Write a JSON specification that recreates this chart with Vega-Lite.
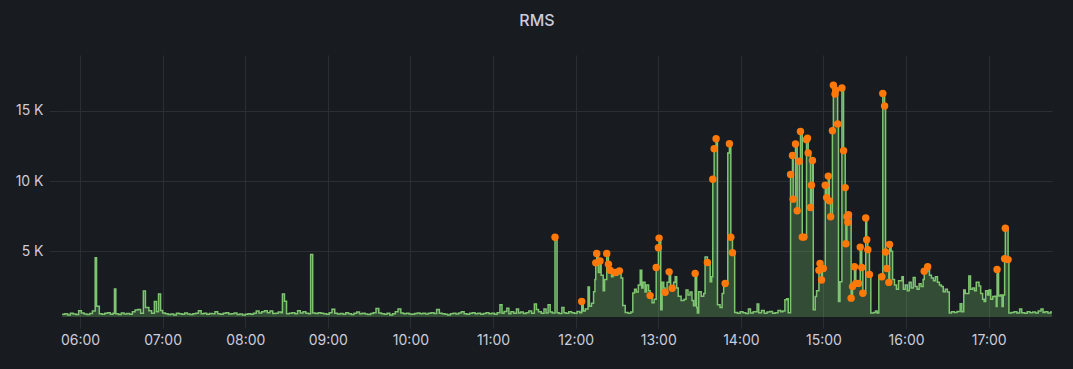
{
"$schema":"https://vega.github.io/schema/vega-lite/v6.json",
"width":990,"height":262,
"autosize":"none",
"padding":{"left":62,"top":55,"right":21,"bottom":52},
"background":"#181b1f",
"title":{"text":"RMS","color":"#ccccdc","fontSize":16,"fontWeight":500,"font":"Inter","anchor":"middle","dx":-20,"offset":26},
"config":{"view":{"stroke":null},"axis":{"domain":false,"grid":true,"gridColor":"#2b2f33","gridWidth":1,"tickColor":"#2b2f33","labelColor":"#ccccdc","labelFont":"Inter","labelFontSize":14,"title":null}},
"data":{"format":{"parse":{"t":"utc:'%H:%M:%S'"}},"values":[
{"t":"05:47:00","v":520},{"t":"05:49:00","v":560},{"t":"05:51:00","v":480},{"t":"05:53:00","v":600},{"t":"05:55:00","v":540},{"t":"05:57:00","v":500},{"t":"05:59:00","v":780},{"t":"06:01:00","v":620},{"t":"06:03:00","v":540},{"t":"06:05:00","v":500},{"t":"06:07:00","v":580},{"t":"06:09:00","v":750},{"t":"06:11:00","v":4550},{"t":"06:12:00","v":1100},{"t":"06:14:00","v":560},{"t":"06:16:00","v":520},{"t":"06:18:00","v":600},{"t":"06:20:00","v":640},{"t":"06:22:00","v":520},{"t":"06:24:00","v":600},{"t":"06:25:00","v":2320},{"t":"06:26:00","v":560},{"t":"06:28:00","v":500},{"t":"06:30:00","v":620},{"t":"06:32:00","v":540},{"t":"06:34:00","v":580},{"t":"06:36:00","v":520},{"t":"06:38:00","v":700},{"t":"06:40:00","v":820},{"t":"06:42:00","v":860},{"t":"06:44:00","v":600},{"t":"06:46:00","v":2180},{"t":"06:47:30","v":1000},{"t":"06:50:00","v":780},{"t":"06:52:00","v":600},{"t":"06:54:00","v":1430},{"t":"06:55:30","v":700},{"t":"06:57:00","v":1970},{"t":"06:58:30","v":800},{"t":"07:00:00","v":620},{"t":"07:02:00","v":560},{"t":"07:04:00","v":500},{"t":"07:06:00","v":540},{"t":"07:08:00","v":480},{"t":"07:10:00","v":600},{"t":"07:12:00","v":560},{"t":"07:14:00","v":520},{"t":"07:16:00","v":620},{"t":"07:18:00","v":540},{"t":"07:20:00","v":500},{"t":"07:22:00","v":560},{"t":"07:24:00","v":600},{"t":"07:26:00","v":780},{"t":"07:28:00","v":560},{"t":"07:30:00","v":600},{"t":"07:32:00","v":520},{"t":"07:34:00","v":580},{"t":"07:36:00","v":560},{"t":"07:38:00","v":700},{"t":"07:40:00","v":560},{"t":"07:42:00","v":520},{"t":"07:44:00","v":600},{"t":"07:46:00","v":640},{"t":"07:48:00","v":540},{"t":"07:50:00","v":560},{"t":"07:52:00","v":620},{"t":"07:54:00","v":500},{"t":"07:56:00","v":540},{"t":"07:58:00","v":480},{"t":"08:00:00","v":520},{"t":"08:02:00","v":560},{"t":"08:04:00","v":520},{"t":"08:06:00","v":600},{"t":"08:08:00","v":760},{"t":"08:10:00","v":620},{"t":"08:12:00","v":700},{"t":"08:14:00","v":780},{"t":"08:16:00","v":640},{"t":"08:18:00","v":760},{"t":"08:20:00","v":580},{"t":"08:22:00","v":600},{"t":"08:24:00","v":680},{"t":"08:26:00","v":640},{"t":"08:27:00","v":1970},{"t":"08:28:30","v":1450},{"t":"08:30:00","v":560},{"t":"08:32:00","v":600},{"t":"08:34:00","v":640},{"t":"08:36:00","v":560},{"t":"08:38:00","v":780},{"t":"08:40:00","v":620},{"t":"08:42:00","v":700},{"t":"08:44:00","v":600},{"t":"08:46:00","v":560},{"t":"08:47:30","v":4770},{"t":"08:49:00","v":620},{"t":"08:51:00","v":580},{"t":"08:53:00","v":640},{"t":"08:55:00","v":600},{"t":"08:57:00","v":560},{"t":"08:59:00","v":520},{"t":"09:01:00","v":640},{"t":"09:03:00","v":880},{"t":"09:05:00","v":600},{"t":"09:07:00","v":540},{"t":"09:09:00","v":580},{"t":"09:11:00","v":520},{"t":"09:13:00","v":640},{"t":"09:15:00","v":560},{"t":"09:17:00","v":500},{"t":"09:19:00","v":600},{"t":"09:21:00","v":680},{"t":"09:23:00","v":560},{"t":"09:25:00","v":600},{"t":"09:27:00","v":540},{"t":"09:29:00","v":500},{"t":"09:31:00","v":580},{"t":"09:33:00","v":640},{"t":"09:35:00","v":940},{"t":"09:37:00","v":620},{"t":"09:39:00","v":560},{"t":"09:41:00","v":520},{"t":"09:43:00","v":600},{"t":"09:45:00","v":480},{"t":"09:47:00","v":560},{"t":"09:49:00","v":700},{"t":"09:51:00","v":900},{"t":"09:53:00","v":620},{"t":"09:55:00","v":560},{"t":"09:57:00","v":600},{"t":"09:59:00","v":540},{"t":"10:01:00","v":520},{"t":"10:03:00","v":580},{"t":"10:05:00","v":620},{"t":"10:07:00","v":560},{"t":"10:09:00","v":600},{"t":"10:11:00","v":540},{"t":"10:13:00","v":600},{"t":"10:15:00","v":640},{"t":"10:17:00","v":580},{"t":"10:19:00","v":860},{"t":"10:21:00","v":600},{"t":"10:23:00","v":560},{"t":"10:25:00","v":520},{"t":"10:27:00","v":480},{"t":"10:29:00","v":560},{"t":"10:31:00","v":600},{"t":"10:33:00","v":540},{"t":"10:35:00","v":620},{"t":"10:37:00","v":700},{"t":"10:39:00","v":560},{"t":"10:41:00","v":520},{"t":"10:43:00","v":600},{"t":"10:45:00","v":640},{"t":"10:47:00","v":560},{"t":"10:49:00","v":600},{"t":"10:51:00","v":520},{"t":"10:53:00","v":580},{"t":"10:55:00","v":640},{"t":"10:57:00","v":560},{"t":"10:59:00","v":600},{"t":"11:01:00","v":520},{"t":"11:03:00","v":640},{"t":"11:05:00","v":1200},{"t":"11:06:30","v":600},{"t":"11:08:00","v":720},{"t":"11:10:00","v":950},{"t":"11:11:30","v":560},{"t":"11:13:00","v":700},{"t":"11:15:00","v":600},{"t":"11:17:00","v":900},{"t":"11:18:30","v":620},{"t":"11:20:00","v":680},{"t":"11:22:00","v":580},{"t":"11:24:00","v":640},{"t":"11:26:00","v":760},{"t":"11:28:00","v":600},{"t":"11:30:00","v":1250},{"t":"11:31:30","v":860},{"t":"11:33:00","v":700},{"t":"11:35:00","v":600},{"t":"11:37:00","v":900},{"t":"11:38:30","v":620},{"t":"11:40:00","v":1200},{"t":"11:41:30","v":680},{"t":"11:43:00","v":620},{"t":"11:45:00","v":6000,"p":1},{"t":"11:46:30","v":640},{"t":"11:48:00","v":580},{"t":"11:50:00","v":1000},{"t":"11:51:30","v":640},{"t":"11:53:00","v":600},{"t":"11:55:00","v":700},{"t":"11:57:00","v":640},{"t":"11:59:00","v":600},{"t":"12:01:00","v":720},{"t":"12:03:00","v":640},
{"t":"12:04:24","v":1430,"p":1},{"t":"12:05:30","v":760},{"t":"12:07:00","v":900},{"t":"12:09:00","v":2460},{"t":"12:10:00","v":1100},{"t":"12:11:30","v":1300},{"t":"12:13:00","v":2130},{"t":"12:14:00","v":3000},{"t":"12:14:36","v":4180,"p":1},{"t":"12:15:18","v":4840,"p":1},{"t":"12:16:30","v":3500},{"t":"12:17:42","v":4320,"p":1},{"t":"12:18:30","v":3300},{"t":"12:20:00","v":2200},{"t":"12:21:00","v":3000},{"t":"12:22:36","v":4840,"p":1},{"t":"12:23:48","v":4080,"p":1},{"t":"12:25:00","v":3660,"p":1},{"t":"12:26:06","v":3200},{"t":"12:27:12","v":3400},{"t":"12:28:36","v":3500,"p":1},{"t":"12:29:42","v":3300},{"t":"12:30:30","v":3400},{"t":"12:31:48","v":3610,"p":1},{"t":"12:33:00","v":3100},{"t":"12:34:12","v":1150},{"t":"12:36:00","v":650},{"t":"12:38:00","v":600},{"t":"12:40:00","v":680},{"t":"12:41:30","v":2040},{"t":"12:42:48","v":2300},{"t":"12:44:00","v":2100},{"t":"12:45:30","v":2600},{"t":"12:46:54","v":3660},{"t":"12:48:00","v":2400},{"t":"12:49:00","v":2800},{"t":"12:50:24","v":2100},{"t":"12:51:30","v":2600},{"t":"12:53:00","v":2200},{"t":"12:54:06","v":1850,"p":1},{"t":"12:55:30","v":1340},{"t":"12:57:00","v":1600},{"t":"12:58:30","v":3850,"p":1},{"t":"13:00:06","v":5260,"p":1},{"t":"13:00:36","v":5940,"p":1},{"t":"13:01:48","v":850},{"t":"13:02:48","v":2800},{"t":"13:04:00","v":2400},{"t":"13:05:00","v":2090,"p":1},{"t":"13:06:24","v":2800},{"t":"13:07:54","v":3540,"p":1},{"t":"13:09:00","v":2500},{"t":"13:10:06","v":2370,"p":1},{"t":"13:11:12","v":2800},{"t":"13:12:18","v":3190},{"t":"13:13:24","v":2400},{"t":"13:14:30","v":1800},{"t":"13:16:36","v":1500},{"t":"13:18:48","v":1600},{"t":"13:20:12","v":2250},{"t":"13:21:36","v":1900},{"t":"13:23:06","v":2100},{"t":"13:24:30","v":1500},{"t":"13:25:36","v":1130},{"t":"13:26:48","v":3430,"p":1},{"t":"13:27:54","v":1000},{"t":"13:28:24","v":610},{"t":"13:29:24","v":2130},{"t":"13:31:12","v":1800},{"t":"13:33:00","v":2000},{"t":"13:34:00","v":4600},{"t":"13:35:42","v":4200,"p":1},{"t":"13:37:42","v":2840},{"t":"13:38:48","v":3200},{"t":"13:39:36","v":10120,"p":1},{"t":"13:40:36","v":12300,"p":1},{"t":"13:42:00","v":13000,"p":1},{"t":"13:43:00","v":1200},{"t":"13:44:54","v":1000},{"t":"13:46:24","v":2000},{"t":"13:47:30","v":2500},{"t":"13:48:36","v":2720,"p":1},{"t":"13:50:30","v":12000},{"t":"13:51:42","v":12650,"p":1},{"t":"13:52:42","v":6000,"p":1},{"t":"13:53:54","v":4900,"p":1},{"t":"13:55:30","v":650},{"t":"13:57:30","v":600},{"t":"13:59:30","v":700},{"t":"14:01:30","v":640},{"t":"14:03:30","v":580},{"t":"14:05:30","v":900},{"t":"14:07:00","v":620},{"t":"14:09:00","v":700},{"t":"14:11:48","v":1250},{"t":"14:13:00","v":640},{"t":"14:15:00","v":800},{"t":"14:17:00","v":600},{"t":"14:19:00","v":680},{"t":"14:21:00","v":720},{"t":"14:23:00","v":600},{"t":"14:25:00","v":640},{"t":"14:27:00","v":800},{"t":"14:29:00","v":700},{"t":"14:30:30","v":760},{"t":"14:32:00","v":1550},{"t":"14:33:18","v":1620},{"t":"14:34:24","v":630},
{"t":"14:36:06","v":10470,"p":1},{"t":"14:37:30","v":11810,"p":1},{"t":"14:38:00","v":8710,"p":1},{"t":"14:39:42","v":12630,"p":1},{"t":"14:40:54","v":7890,"p":1},{"t":"14:42:24","v":11410,"p":1},{"t":"14:43:18","v":13520,"p":1},{"t":"14:44:36","v":6010,"p":1},{"t":"14:45:48","v":6010,"p":1},{"t":"14:47:42","v":12940,"p":1},{"t":"14:48:24","v":13050,"p":1},{"t":"14:48:54","v":12000,"p":1},{"t":"14:50:36","v":8120,"p":1},{"t":"14:51:18","v":9700,"p":1},{"t":"14:52:00","v":11460,"p":1},{"t":"14:52:36","v":850},{"t":"14:54:00","v":1780},{"t":"14:55:00","v":2200},{"t":"14:56:42","v":3660,"p":1},{"t":"14:57:30","v":4130,"p":1},{"t":"14:58:36","v":2960,"p":1},{"t":"14:59:06","v":3780,"p":1},{"t":"14:59:54","v":3780,"p":1},{"t":"15:01:18","v":9700,"p":1},{"t":"15:02:18","v":8820,"p":1},{"t":"15:03:30","v":10350,"p":1},{"t":"15:04:18","v":8590,"p":1},{"t":"15:05:12","v":7460,"p":1},{"t":"15:06:30","v":13570,"p":1},{"t":"15:07:12","v":16810,"p":1},{"t":"15:08:24","v":16180,"p":1},{"t":"15:08:54","v":16460,"p":1},{"t":"15:10:18","v":14060,"p":1},{"t":"15:10:54","v":1430},{"t":"15:12:00","v":2840},{"t":"15:13:24","v":16620,"p":1},{"t":"15:14:36","v":12160,"p":1},{"t":"15:15:48","v":9530,"p":1},{"t":"15:16:18","v":5540,"p":1},{"t":"15:17:00","v":7460,"p":1},{"t":"15:17:42","v":7060,"p":1},{"t":"15:18:12","v":7600,"p":1},{"t":"15:20:06","v":1670,"p":1},{"t":"15:21:06","v":2490,"p":1},{"t":"15:22:30","v":3900,"p":1},{"t":"15:23:30","v":2720,"p":1},{"t":"15:25:24","v":2720,"p":1},{"t":"15:26:42","v":5300,"p":1},{"t":"15:27:48","v":3850,"p":1},{"t":"15:28:36","v":2020,"p":1},{"t":"15:30:42","v":7370,"p":1},{"t":"15:31:24","v":5820,"p":1},{"t":"15:32:12","v":5120,"p":1},{"t":"15:33:24","v":3360,"p":1},{"t":"15:34:24","v":610},{"t":"15:36:24","v":650},{"t":"15:37:48","v":760},{"t":"15:39:00","v":620},{"t":"15:40:12","v":3300},{"t":"15:42:24","v":3190,"p":1},{"t":"15:43:06","v":16220,"p":1},{"t":"15:44:24","v":15330,"p":1},{"t":"15:45:06","v":4950,"p":1},{"t":"15:46:00","v":3780,"p":1},{"t":"15:47:30","v":2790,"p":1},{"t":"15:48:00","v":5490,"p":1},{"t":"15:49:06","v":5000},{"t":"15:50:12","v":3000},{"t":"15:51:36","v":2600},{"t":"15:53:00","v":2300},{"t":"15:54:30","v":2900},{"t":"15:57:00","v":3190},{"t":"15:58:00","v":2300},{"t":"15:59:24","v":2600},{"t":"16:00:54","v":2200},{"t":"16:02:18","v":2800},{"t":"16:03:42","v":2400},{"t":"16:05:12","v":3130},{"t":"16:06:36","v":2500},{"t":"16:08:00","v":2300},{"t":"16:09:30","v":2700},{"t":"16:10:54","v":2500},{"t":"16:12:24","v":3000},{"t":"16:13:12","v":3590,"p":1},{"t":"16:15:42","v":3900,"p":1},{"t":"16:17:00","v":3300},{"t":"16:18:24","v":3100},{"t":"16:19:54","v":2900},{"t":"16:21:18","v":3200},{"t":"16:22:48","v":2800},{"t":"16:24:12","v":2600},{"t":"16:25:36","v":2500},{"t":"16:27:00","v":2130},{"t":"16:28:30","v":2300},{"t":"16:30:00","v":2100},{"t":"16:31:24","v":610},{"t":"16:33:00","v":700},{"t":"16:35:00","v":650},{"t":"16:37:00","v":720},{"t":"16:39:18","v":1270},{"t":"16:40:30","v":700},{"t":"16:41:54","v":2250},{"t":"16:43:00","v":2000},{"t":"16:45:36","v":3240},{"t":"16:46:48","v":2300},{"t":"16:48:18","v":2400},{"t":"16:49:42","v":2200},{"t":"16:51:00","v":2800},{"t":"16:53:00","v":2530},{"t":"16:54:12","v":2000},{"t":"16:55:36","v":1600},{"t":"16:56:42","v":1430},{"t":"16:57:48","v":2200},{"t":"16:59:12","v":1900},{"t":"17:00:18","v":2250},{"t":"17:01:30","v":1600},{"t":"17:03:00","v":1780},{"t":"17:04:24","v":1800},{"t":"17:05:30","v":1080},{"t":"17:06:06","v":3710,"p":1},{"t":"17:07:12","v":1830},{"t":"17:08:30","v":1900},{"t":"17:09:42","v":1080},{"t":"17:10:36","v":1900},{"t":"17:11:36","v":4480,"p":1},{"t":"17:12:06","v":6640,"p":1},{"t":"17:14:06","v":4410,"p":1},{"t":"17:14:42","v":610},{"t":"17:16:30","v":650},{"t":"17:18:30","v":700},{"t":"17:20:30","v":620},{"t":"17:22:30","v":900},{"t":"17:24:00","v":640},{"t":"17:26:00","v":600},{"t":"17:28:00","v":700},{"t":"17:30:00","v":640},{"t":"17:32:00","v":680},{"t":"17:34:00","v":620},{"t":"17:36:00","v":760},{"t":"17:38:00","v":900},{"t":"17:39:30","v":650},{"t":"17:41:00","v":700},{"t":"17:43:00","v":620},{"t":"17:45:00","v":680},{"t":"17:46:00","v":650}
]},
"encoding":{
"x":{"field":"t","type":"temporal","scale":{"type":"utc","domain":[-2208967986000,-2208924840000]},"axis":{"format":"%H:%M","tickCount":12,"tickSize":11,"labelPadding":5,"labelFlush":false}},
"y":{"field":"v","type":"quantitative","scale":{"domain":[330,18960],"nice":false,"zero":false},"axis":{"values":[5000,10000,15000],"labelExpr":"datum.value/1000 + ' K'","tickSize":13,"labelPadding":6}}
},
"layer":[
{"mark":{"type":"area","interpolate":"step-after","color":"#73BF69","opacity":0.3,"clip":true}},
{"mark":{"type":"line","interpolate":"step-after","color":"#7EC471","strokeWidth":1.5,"clip":true}},
{"transform":[{"filter":"datum.p == 1"}],"mark":{"type":"point","filled":true,"color":"#FF780A","size":55,"opacity":1}}
]
}
